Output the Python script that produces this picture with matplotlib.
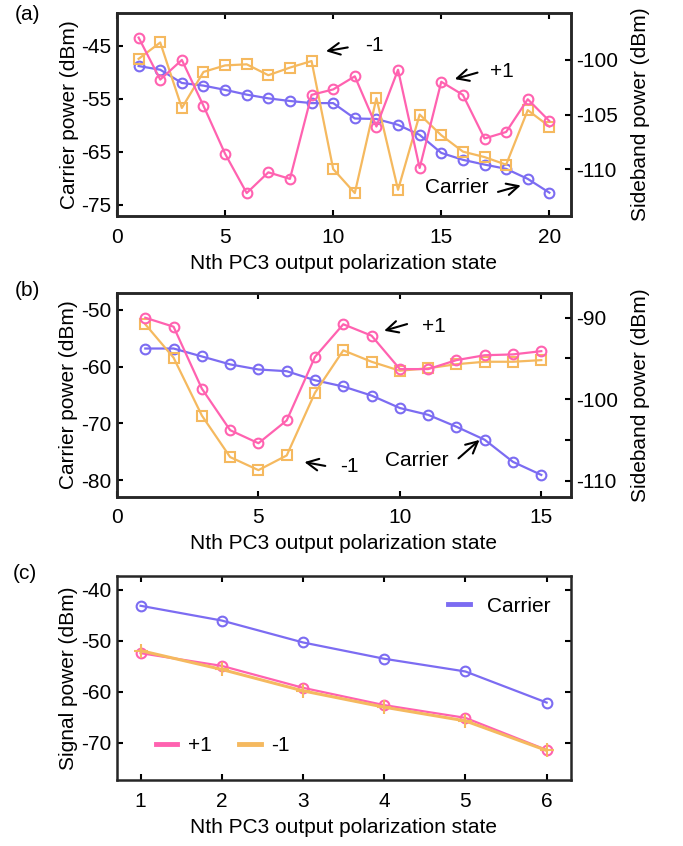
import matplotlib
matplotlib.use("Agg")
import matplotlib.pyplot as plt
from matplotlib.lines import Line2D

plt.rcParams['font.family'] = ['Liberation Sans', 'DejaVu Sans']
plt.rcParams['font.size'] = 15
plt.rcParams['axes.unicode_minus'] = False
plt.rcParams['axes.linewidth'] = 1.8
plt.rcParams['axes.edgecolor'] = '#262626'
plt.rcParams['xtick.direction'] = 'in'
plt.rcParams['ytick.direction'] = 'in'
plt.rcParams['xtick.major.size'] = 4
plt.rcParams['ytick.major.size'] = 4
plt.rcParams['xtick.major.width'] = 1.5
plt.rcParams['ytick.major.width'] = 1.5
plt.rcParams['xtick.major.pad'] = 8.5
plt.rcParams['ytick.major.pad'] = 4

BLUE = '#7c6cf2'
PINK = '#ff62b0'
ORANGE = '#f5b95f'

# ---------------- data ----------------
# Panel (a)
a_x = list(range(1, 21))
a_carrier = [-48.8, -49.5, -52.0, -52.5, -53.3, -54.2, -54.9, -55.4, -55.8, -55.8,
             -58.7, -58.8, -59.9, -61.8, -65.2, -66.5, -67.4, -68.2, -70.1, -72.7]
a_plus1 = [-97.95, -101.8, -100.0, -104.2, -108.6, -112.2, -110.3, -110.9, -103.2, -102.7,
           -101.5, -106.1, -100.9, -109.9, -102.0, -103.2, -107.2, -106.6, -103.6, -105.6]
a_minus1 = [-99.9, -98.4, -104.4, -101.1, -100.5, -100.4, -101.4, -100.7, -100.1, -110.0,
            -112.2, -103.5, -111.9, -105.0, -106.9, -108.4, -108.9, -109.6, -104.6, -106.1]

# Panel (b)
b_x = list(range(1, 16))
b_carrier = [-56.8, -56.8, -58.2, -59.6, -60.5, -60.8, -62.4, -63.5, -65.1, -67.3,
             -68.5, -70.6, -72.9, -76.8, -79.1]
b_plus1 = [-90.0, -91.1, -98.7, -103.8, -105.4, -102.6, -94.8, -90.8, -92.2, -96.3,
           -96.3, -95.2, -94.6, -94.5, -94.1]
b_minus1 = [-90.8, -94.9, -102.0, -107.1, -108.7, -106.9, -99.2, -94.0, -95.4, -96.5,
            -96.2, -95.7, -95.4, -95.4, -95.2]

# Panel (c)
c_x = [1, 2, 3, 4, 5, 6]
c_carrier = [-43.1, -46.0, -50.3, -53.5, -56.0, -62.1]
c_plus1 = [-52.4, -54.9, -59.2, -62.6, -65.1, -71.4]
c_minus1 = [-51.9, -55.6, -59.8, -63.0, -65.7, -71.5]

xlabel = 'Nth PC3 output polarization state'

fig = plt.figure(figsize=(6.83, 8.46), dpi=100)

L, W = 0.1713, 0.6647
axA = fig.add_axes([L, 0.7447, W, 0.2399])
axB = fig.add_axes([L, 0.4129, W, 0.2404])
axC = fig.add_axes([L, 0.0780, W, 0.2415])

lw = 1.6
ms = 7
mew = 1.5
arrow = dict(arrowstyle='->', color='black', lw=1.5, mutation_scale=21)

# ---------------- (a) ----------------
axA.plot(a_x, a_carrier, '-o', color=BLUE, lw=lw, ms=ms, mfc='none', mew=mew)
axA.set_xlim(0, 21)
axA.set_ylim(-77.1, -38.8)
axA.set_yticks([-45, -55, -65, -75])
axA.set_xticks([0, 5, 10, 15, 20])
axA.set_ylabel('Carrier power (dBm)', labelpad=2)
axA.set_xlabel(xlabel, labelpad=5)
axA.tick_params(top=True, right=False)
axA2 = axA.twinx()
axA2.plot(a_x, a_minus1, '-s', color=ORANGE, lw=lw, ms=ms, mfc='none', mew=mew)
axA2.plot(a_x, a_plus1, '-o', color=PINK, lw=lw, ms=ms, mfc='none', mew=mew)
axA2.set_ylim(-114.3, -95.7)
axA2.set_yticks([-110, -105, -100])
axA2.set_ylabel('Sideband power (dBm)', labelpad=9)
axA.annotate('', xy=(9.54, -46.1), xytext=(10.8, -45.2), arrowprops=arrow)
axA.text(11.5, -45.0, '-1', ha='left', va='center')
axA.annotate('', xy=(15.5, -51.4), xytext=(16.8, -49.9), arrowprops=arrow)
axA.text(17.25, -49.9, '+1', ha='left', va='center')
axA.text(15.7, -71.8, 'Carrier', ha='center', va='center')
axA.annotate('', xy=(18.8, -71.2), xytext=(17.5, -72.7), arrowprops=arrow)
fig.text(15 / 683, 1 - 15 / 846, '(a)', ha='left', va='center')

# ---------------- (b) ----------------
axB.plot(b_x, b_carrier, '-o', color=BLUE, lw=lw, ms=ms, mfc='none', mew=mew)
axB.set_xlim(0, 16.05)
axB.set_ylim(-82.94, -47.06)
axB.set_yticks([-80, -70, -60, -50])
axB.set_xticks([0, 5, 10, 15])
axB.set_ylabel('Carrier power (dBm)', labelpad=2)
axB.set_xlabel(xlabel, labelpad=5)
axB.tick_params(top=True, right=False)
axB2 = axB.twinx()
axB2.plot(b_x, b_minus1, '-s', color=ORANGE, lw=lw, ms=ms, mfc='none', mew=mew)
axB2.plot(b_x, b_plus1, '-o', color=PINK, lw=lw, ms=ms, mfc='none', mew=mew)
axB2.set_ylim(-111.96, -87.0)
axB2.set_yticks([-110, -105, -100, -95, -90])
axB2.set_yticklabels(['-110', '', '-100', '', '-90'])
axB2.set_ylabel('Sideband power (dBm)', labelpad=9)
axB.annotate('', xy=(9.35, -53.8), xytext=(10.35, -52.35), arrowprops=arrow)
axB.text(10.8, -52.9, '+1', ha='left', va='center')
axB.annotate('', xy=(6.53, -76.75), xytext=(7.46, -77.6), arrowprops=arrow)
axB.text(7.88, -77.6, '-1', ha='left', va='center')
axB.text(10.58, -76.6, 'Carrier', ha='center', va='center')
axB.annotate('', xy=(12.89, -72.6), xytext=(12.0, -76.5), arrowprops=arrow)
fig.text(15 / 683, 1 - 290 / 846, '(b)', ha='left', va='center')

# ---------------- (c) ----------------
axC.plot(c_x, c_carrier, '-o', color=BLUE, lw=lw, ms=ms, mfc='none', mew=mew)
axC.plot(c_x, c_plus1, '-o', color=PINK, lw=lw, ms=ms, mfc='none', mew=mew)
axC.plot(c_x, c_minus1, '-+', color=ORANGE, lw=2.2, ms=10, mew=mew)
axC.set_xlim(0.71, 6.3)
axC.set_ylim(-77.3, -37.2)
axC.set_yticks([-70, -60, -50, -40])
axC.set_xticks(c_x)
axC.set_ylabel('Signal power (dBm)', labelpad=2)
axC.set_xlabel(xlabel, labelpad=5)
axC.tick_params(top=True, right=True)
h_c = Line2D([], [], color=BLUE, lw=3.5)
h_p = Line2D([], [], color=PINK, lw=3.5)
h_m = Line2D([], [], color=ORANGE, lw=3.5)
leg1 = axC.legend([h_c], ['Carrier'], loc='upper right', frameon=False,
                  handlelength=1.05, handletextpad=0.8, borderaxespad=0.6)
axC.add_artist(leg1)
axC.legend([h_p, h_m], ['+1', '-1'], loc='lower left', frameon=False, ncol=2,
           handlelength=1.05, handletextpad=0.5, columnspacing=1.3,
           bbox_to_anchor=(0.03, 0.0), borderaxespad=0.8)
fig.text(13 / 683, 1 - 573 / 846, '(c)', ha='left', va='center')

fig.savefig('out.png', dpi=100)
